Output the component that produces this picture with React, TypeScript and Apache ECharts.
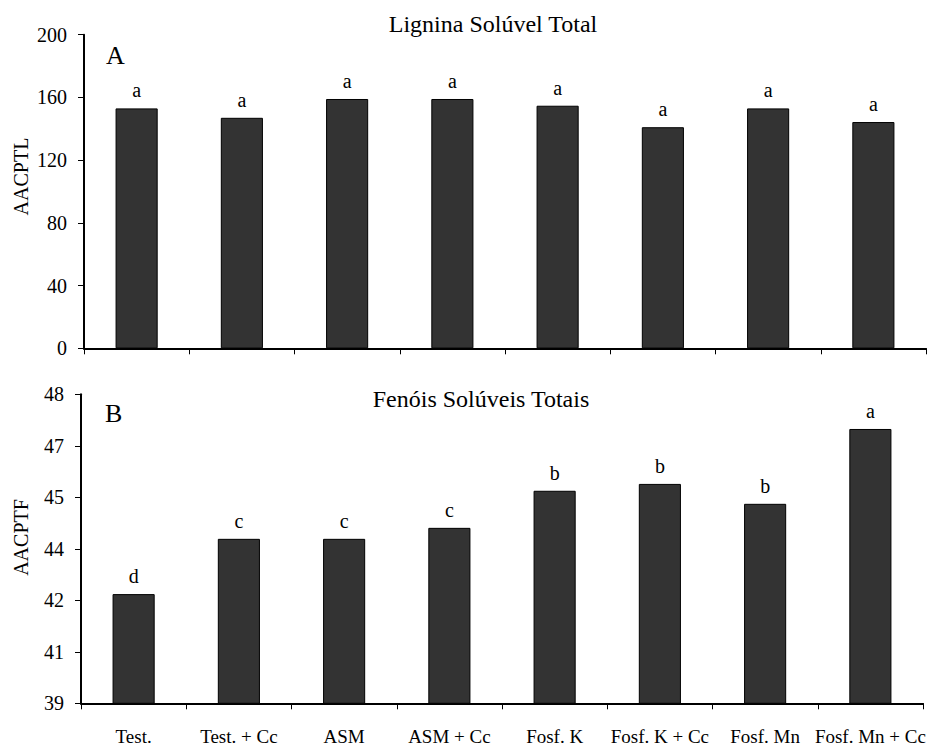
import React, { useEffect, useRef } from "react";
import * as echarts from "echarts";

const categories = ["Test.", "Test. + Cc", "ASM", "ASM + Cc", "Fosf. K", "Fosf. K + Cc", "Fosf. Mn", "Fosf. Mn + Cc"];
const ligninaValues = [153, 147, 159, 159, 154.7, 141, 153, 144.3];
const ligninaLetters = ["a", "a", "a", "a", "a", "a", "a", "a"];
const fenoisValues = [42.18, 43.79, 43.79, 44.11, 45.19, 45.39, 44.81, 46.99];
const fenoisLetters = ["d", "c", "c", "c", "b", "b", "b", "a"];
const ligninaTicks = ["0", "40", "80", "120", "160", "200"];
const fenoisTicks = ["39", "41", "42", "44", "45", "47", "48"];

const FONT = "Liberation Serif, Times New Roman, serif";

export default function App() {
  const ref = useRef<HTMLDivElement>(null);
  useEffect(() => {
    if (!ref.current) return;
    const chart = echarts.init(ref.current, null, { renderer: "svg" });
    const axisLineStyle = { color: "#000", width: 2 };
    const tickStyle = { color: "#000", width: 1 };
    const barItem = { color: "#333333", borderColor: "#000", borderWidth: 1 };
    const labelBase = {
      show: true,
      position: "top",
      distance: 8,
      color: "#000",
      fontFamily: FONT,
      fontSize: 20,
    };
    chart.setOption({
      animation: false,
      textStyle: { fontFamily: FONT },
      grid: [
        { left: 84, top: 34.7, width: 842, height: 313.6, containLabel: false },
        { left: 81, top: 394.3, width: 842, height: 309, containLabel: false },
      ],
      xAxis: [
        {
          type: "category",
          gridIndex: 0,
          data: categories,
          boundaryGap: true,
          axisLine: { show: true, lineStyle: axisLineStyle },
          axisTick: { show: true, length: 6, lineStyle: tickStyle, alignWithLabel: false },
          axisLabel: { show: false },
        },
        {
          type: "category",
          gridIndex: 1,
          data: categories,
          boundaryGap: true,
          axisLine: { show: true, lineStyle: axisLineStyle },
          axisTick: { show: true, length: 6, lineStyle: tickStyle, alignWithLabel: false },
          axisLabel: {
            show: true,
            interval: 0,
            hideOverlap: false,
            margin: 24,
            color: "#000",
            fontFamily: FONT,
            fontSize: 19,
          },
        },
      ],
      yAxis: [
        {
          type: "value",
          gridIndex: 0,
          min: 0,
          max: 200,
          interval: 40,
          axisLine: { show: true, lineStyle: axisLineStyle },
          axisTick: { show: true, length: 6, lineStyle: tickStyle },
          splitLine: { show: false },
          axisLabel: {
            margin: 17,
            color: "#000",
            fontFamily: FONT,
            fontSize: 20,
            formatter: (_v: number, i: number) => ligninaTicks[i] ?? "",
          },
        },
        {
          type: "value",
          gridIndex: 1,
          min: 39,
          max: 48,
          interval: 1.5,
          axisLine: { show: true, lineStyle: axisLineStyle },
          axisTick: { show: true, length: 6, lineStyle: tickStyle },
          splitLine: { show: false },
          axisLabel: {
            margin: 17,
            color: "#000",
            fontFamily: FONT,
            fontSize: 20,
            formatter: (_v: number, i: number) => fenoisTicks[i] ?? "",
          },
        },
      ],
      series: [
        {
          type: "bar",
          xAxisIndex: 0,
          yAxisIndex: 0,
          data: ligninaValues,
          barWidth: "40%",
          itemStyle: barItem,
          label: { ...labelBase, formatter: (p: any) => ligninaLetters[p.dataIndex] },
        },
        {
          type: "bar",
          xAxisIndex: 1,
          yAxisIndex: 1,
          data: fenoisValues,
          barWidth: "40%",
          itemStyle: barItem,
          label: { ...labelBase, formatter: (p: any) => fenoisLetters[p.dataIndex] },
        },
      ],
      graphic: [
        {
          type: "text",
          x: 493,
          y: 24,
          style: { text: "Lignina Solúvel Total", fontFamily: FONT, fontSize: 24, fill: "#000", align: "center", verticalAlign: "middle" },
        },
        {
          type: "text",
          x: 481,
          y: 398.5,
          style: { text: "Fenóis Solúveis Totais", fontFamily: FONT, fontSize: 24, fill: "#000", align: "center", verticalAlign: "middle" },
        },
        {
          type: "text",
          x: 106,
          y: 55,
          style: { text: "A", fontFamily: FONT, fontSize: 26, fill: "#000", align: "left", verticalAlign: "middle" },
        },
        {
          type: "text",
          x: 105,
          y: 413,
          style: { text: "B", fontFamily: FONT, fontSize: 26, fill: "#000", align: "left", verticalAlign: "middle" },
        },
        {
          type: "text",
          x: 20.7,
          y: 176.5,
          rotation: Math.PI / 2,
          style: { text: "AACPTL", fontFamily: FONT, fontSize: 20, fill: "#000", align: "center", verticalAlign: "middle" },
        },
        {
          type: "text",
          x: 20.7,
          y: 537.5,
          rotation: Math.PI / 2,
          style: { text: "AACPTF", fontFamily: FONT, fontSize: 20, fill: "#000", align: "center", verticalAlign: "middle" },
        },
      ],
    });
    return () => chart.dispose();
  }, []);
  return (
    <div
      ref={ref}
      style={{ position: "fixed", left: 0, top: 0, width: 931, height: 747, background: "#fff" }}
    />
  );
}
